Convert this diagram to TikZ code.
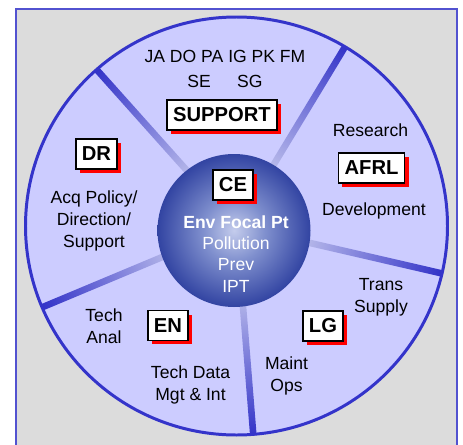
\documentclass[tikz,border=0pt]{standalone}
\usepackage{fontspec}
\setmainfont{Liberation Sans}
\usetikzlibrary{shadows}
\definecolor{BgGray}{HTML}{DCDCDC}
\definecolor{FrameBlue}{HTML}{5252D0}
\definecolor{WheelFill}{HTML}{CCCCFF}
\definecolor{WheelEdge}{HTML}{3434CA}
\definecolor{SpokeLight}{HTML}{C0C2EC}
\definecolor{SpokeDark}{HTML}{3333C8}
\definecolor{BallLight}{HTML}{C4CCEC}
\definecolor{BallMid}{HTML}{8090CE}
\definecolor{BallDeep}{HTML}{3244A2}
\definecolor{BallDark}{HTML}{24349A}
\definecolor{BallEdge}{HTML}{1A2A88}
\pgfdeclareradialshading{BallShade}{\pgfpoint{0bp}{0bp}}{color(0bp)=(BallLight); color(10bp)=(BallMid); color(25bp)=(BallDeep); color(40bp)=(BallDark); color(50bp)=(BallEdge)}
\tikzstyle{OrgBox}=[rectangle, draw=black, line width=1pt, fill=white, inner xsep=3.5pt, inner ysep=0pt, minimum height=17pt, font=\fontsize{11.5}{13}\selectfont\bfseries, drop shadow={shadow xshift=2.3pt, shadow yshift=-2.3pt, fill=red, opacity=1}]
\tikzstyle{OrgText}=[anchor=north, inner sep=0pt, align=center, font=\fontsize{10}{12.5}\selectfont]
\tikzstyle{BallText}=[OrgText, text=white, font=\fontsize{10}{12.2}\selectfont]
\tikzstyle{Spoke}=[left color=SpokeLight, right color=SpokeDark]

\begin{document}
\begin{tikzpicture}[x=0.02cm, y=0.02cm]
\useasboundingbox (0,0) rectangle (463,444);
\filldraw[fill=BgGray, draw=FrameBlue, line width=0.9pt] (16,-10) rectangle (457,435);

\coordinate (O) at (236.5,218);
\coordinate (Oball) at (234,213.5);

% wheel and spokes
\fill[WheelFill] (O) circle [x radius=211, y radius=209];
\foreach \ang in {131.8, 58.8, -13, -85.4, -157.3}
  \shade[Spoke, transform canvas={shift={(O)}, rotate=\ang}] (60,-3.3) rectangle (210,3.3);
\draw[WheelEdge, line width=1.7pt] (O) circle [x radius=211, y radius=209];
\shade[shading=BallShade] (Oball) circle [radius=76.5];

% texts
\node[OrgText](TopTxt) at (225,394) {JA DO PA IG PK FM\\[1.5pt]SE\hspace{15pt}SG};
\node[OrgText](ResearchTxt) at (370.5,320.5) {Research};
\node[OrgText](DevelopTxt) at (374,242) {Development};
\node[OrgText](AcqTxt) at (94,254) {Acq Policy/\\Direction/\\Support};
\node[OrgText](AnalTxt) at (104,136) {Tech\\Anal};
\node[OrgText](DataTxt) at (190.5,79) {Tech Data\\Mgt \& Int};
\node[OrgText](OpsTxt) at (286.5,88) {Maint\\Ops};
\node[OrgText](SupplyTxt) at (381,165.7) {Trans\\Supply};
\node[BallText](BallTxt) at (236,229) {\textbf{Env Focal Pt}\\Pollution\\Prev\\IPT};

% office boxes
\node[OrgBox](SUPPORT) at (222,329) {SUPPORT};
\node[OrgBox](AFRL) at (371.5,276) {AFRL};
\node[OrgBox](DR) at (96.5,290) {DR};
\node[OrgBox](CE) at (233,259) {CE};
\node[OrgBox](EN) at (168,118.5) {EN};
\node[OrgBox](LG) at (323,118) {LG};
\end{tikzpicture}
\end{document}
